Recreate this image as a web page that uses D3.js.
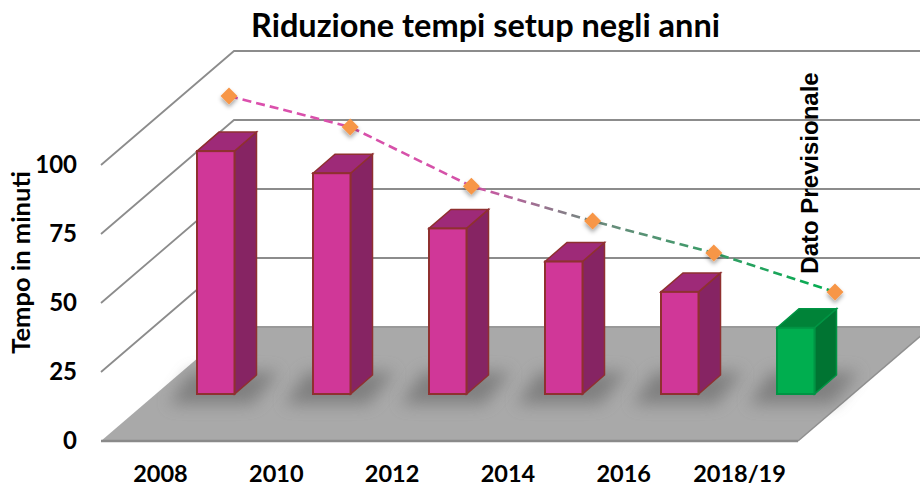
<!DOCTYPE html>
<html><head><meta charset="utf-8">
<script src="https://cdnjs.cloudflare.com/ajax/libs/d3/7.8.5/d3.min.js"></script>
<style>html,body{margin:0;padding:0;background:#fff}svg{display:block}</style>
</head><body><svg id="c" width="920" height="486"></svg>
<script>
const categories = ["2008","2010","2012","2014","2016","2018/19"];
const barValues = [88, 80, 60, 48, 37, 24];
const lineValues = [83.7, 72.5, 51, 38.4, 26.8, 12.7];
const yTicks = [0, 25, 50, 75, 100];
const title = "Riduzione tempi setup negli anni";
const yTitle = "Tempo in minuti";
const note = "Dato Previsionale";

const svg = d3.select("#c");
const defs = svg.append("defs");
const W = 920, H = 486;
const frontX0 = 101, frontX1 = 798, depthX = 133, floorFront = 441, floorBack = 327;
const y = d3.scaleLinear().domain([0,100]).range([floorFront, 165]);
const x = d3.scaleBand().domain(categories).range([197, 197+5*116+37.5]).paddingInner(1-37.5/116).paddingOuter(0);
const xLine = d3.scalePoint().domain(categories).range([229, 835]);
const barDX = 22, barDY = 19, barBase = 394;
const h = v => y(0) - y(v);

defs.append("filter").attr("id","blur").attr("x","-50%").attr("y","-100%").attr("width","200%").attr("height","300%")
  .append("feGaussianBlur").attr("stdDeviation",8);
const sh = defs.append("filter").attr("id","mk").attr("x","-80%").attr("y","-80%").attr("width","260%").attr("height","260%");
sh.append("feDropShadow").attr("dx",0).attr("dy",3).attr("stdDeviation",2).attr("flood-color","#000").attr("flood-opacity",0.35);
const lg = defs.append("linearGradient").attr("id","lg").attr("gradientUnits","userSpaceOnUse")
  .attr("x1",xLine(categories[0])).attr("x2",xLine(categories[5])).attr("y1",0).attr("y2",0);
lg.append("stop").attr("offset",0).attr("stop-color","#dc4fad");
lg.append("stop").attr("offset",0.4).attr("stop-color","#d452a8");
lg.append("stop").attr("offset",0.6).attr("stop-color","#6f8a7e");
lg.append("stop").attr("offset",1).attr("stop-color","#00ae4f");

const wall = svg.append("g").attr("fill","none");
yTicks.slice(1).forEach(t => {
  const yF = y(t), yB = yF - (floorFront - floorBack);
  wall.append("path")
    .attr("d", d3.line()([[frontX0,yF],[frontX0+depthX,yB],[W,yB]]))
    .attr("stroke","#8c8c8c").attr("stroke-width",1.8);
});

svg.append("path")
  .attr("d", d3.line()([[frontX0,floorFront],[frontX1,floorFront],[frontX1+depthX,floorBack],[frontX0+depthX,floorBack]])+"Z")
  .attr("fill","#a9a9a9");
svg.append("path").attr("d", d3.line()([[frontX0+depthX,floorBack],[W,floorBack]])).attr("stroke","#999").attr("stroke-width",2);
svg.append("path").attr("d", d3.line()([[frontX0,floorFront],[frontX1,floorFront]])).attr("stroke","#8a8a8a").attr("stroke-width",2.4);
svg.append("path").attr("d", d3.line()([[frontX1,floorFront],[frontX1+depthX,floorBack]])).attr("stroke","#8f8f8f").attr("stroke-width",1.5);

svg.append("g").selectAll("path").data(categories).join("path")
  .attr("d", c => { const a=x(c)-28, b=x(c)+x.bandwidth()+8, t=barBase-16, d=barBase+10;
     return d3.line()([[a+22,t-6],[b+36,t-6],[b+10,d],[a,d]])+"Z"; })
  .attr("fill","#6e6e6e").attr("opacity",0.7).attr("filter","url(#blur)");

const bars = svg.append("g").selectAll("g").data(categories.map((c,i)=>({c,v:barValues[i],i}))).join("g");
const pal = d => d.i===5 ? {f:"#00ae4f",s:"#007432",t:"#008338",k:"#009544"} : {f:"#d03798",s:"#862463",t:"#9e2a78",k:"#8f3030"};
bars.append("path").attr("d", d => { const r=x(d.c)+x.bandwidth(), t=barBase-h(d.v);
    return d3.line()([[r,t],[r+barDX,t-barDY],[r+barDX,barBase-barDY],[r,barBase]])+"Z"; })
  .attr("fill",d=>pal(d).s).attr("stroke",d=>pal(d).k).attr("stroke-width",1.5);
bars.append("path").attr("d", d => { const l=x(d.c), r=l+x.bandwidth(), t=barBase-h(d.v);
    return d3.line()([[l,t],[l+barDX,t-barDY],[r+barDX,t-barDY],[r,t]])+"Z"; })
  .attr("fill",d=>pal(d).t).attr("stroke",d=>pal(d).k).attr("stroke-width",1.5);
bars.append("rect").attr("x",d=>x(d.c)).attr("y",d=>barBase-h(d.v)).attr("width",x.bandwidth()).attr("height",d=>h(d.v))
  .attr("fill",d=>pal(d).f).attr("stroke",d=>pal(d).k).attr("stroke-width",2);

const lineY = v => y(v) - (floorFront - floorBack);
const lpts = categories.map((c,i)=>[xLine(c), lineY(lineValues[i])]);
svg.append("path").attr("d", d3.line()(lpts)).attr("fill","none")
  .attr("stroke","url(#lg)").attr("stroke-width",2.6).attr("stroke-dasharray","9 5");
svg.append("g").selectAll("path").data(lpts).join("path")
  .attr("d", d3.symbol(d3.symbolDiamond2, 184))
  .attr("transform", d=>`translate(${d[0]},${d[1]})`)
  .attr("fill","#f79646").attr("filter","url(#mk)");

const yAxis = d3.axisLeft(y).tickValues(yTicks).tickSize(0).tickPadding(0);
const gy = svg.append("g").attr("transform","translate(77,0)").call(yAxis);
gy.select(".domain").remove();
gy.selectAll("text").attr("font-family","Lato, 'Open Sans', sans-serif").attr("font-weight",700).attr("font-size",24).attr("fill","#000");
const xAxis = d3.axisBottom(d3.scalePoint().domain(categories).range([160,739])).tickSize(0).tickPadding(0);
const gx = svg.append("g").attr("transform","translate(0,465)").call(xAxis);
gx.select(".domain").remove();
gx.selectAll("text").attr("font-family","Lato, 'Open Sans', sans-serif").attr("font-weight",700).attr("font-size",23.5).attr("fill","#000");

svg.append("text").attr("x",485.5).attr("y",37).attr("text-anchor","middle")
  .attr("font-family","Lato, 'Open Sans', sans-serif").attr("font-weight",700).attr("font-size",32.5).attr("fill","#000").text(title);
svg.append("text").attr("transform","translate(30,262.5) rotate(-90)").attr("text-anchor","middle")
  .attr("font-family","Lato, 'Open Sans', sans-serif").attr("font-weight",700).attr("font-size",25.5).attr("fill","#000").text(yTitle);
svg.append("text").attr("transform","translate(818,173) rotate(-90)").attr("text-anchor","middle")
  .attr("font-family","'Liberation Sans', Arial, sans-serif").attr("font-weight",700).attr("font-size",24).attr("fill","#000").text(note);
</script></body></html>
